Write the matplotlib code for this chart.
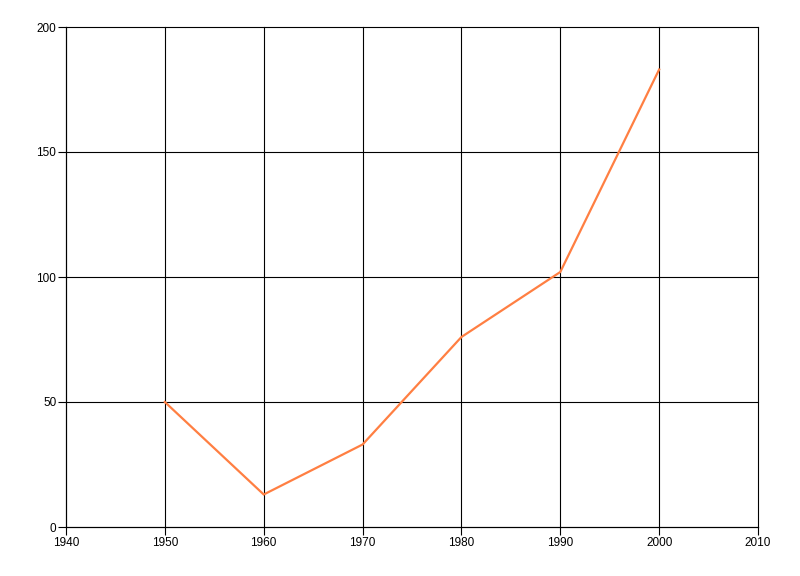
import matplotlib
matplotlib.use('Agg')
import matplotlib.pyplot as plt

# values
years = [1950, 1960, 1970, 1980, 1990, 2000]
values = [50, 13, 33, 76, 102, 183]
x_ticks = [1940, 1950, 1960, 1970, 1980, 1990, 2000, 2010]
y_ticks = [0, 50, 100, 150, 200]

plt.rcParams['font.family'] = ['Liberation Sans', 'DejaVu Sans']

fig = plt.figure(figsize=(8, 5.76), dpi=100)
ax = fig.add_axes([66 / 800, 49 / 576, 692 / 800, 500 / 576])

ax.plot(years, values, color='#FF7F42', linewidth=1.6, solid_joinstyle='miter')

ax.set_xlim(1940, 2010)
ax.set_ylim(0, 200)
ax.set_xticks(x_ticks)
ax.set_yticks(y_ticks)
ax.grid(True, color='black', linewidth=0.8)
ax.set_axisbelow(True)
# keep the edge grid lines (2010, 200) fully drawn
for gl in ax.get_xgridlines() + ax.get_ygridlines():
    gl.set_clip_on(False)

for side in ['top', 'right']:
    ax.spines[side].set_visible(False)
for side in ['left', 'bottom']:
    ax.spines[side].set_linewidth(0.8)

ax.tick_params(axis='both', direction='out', length=6, width=0.8, labelsize=8.5, colors='black', pad=1)

fig.savefig('out.png', dpi=100)
